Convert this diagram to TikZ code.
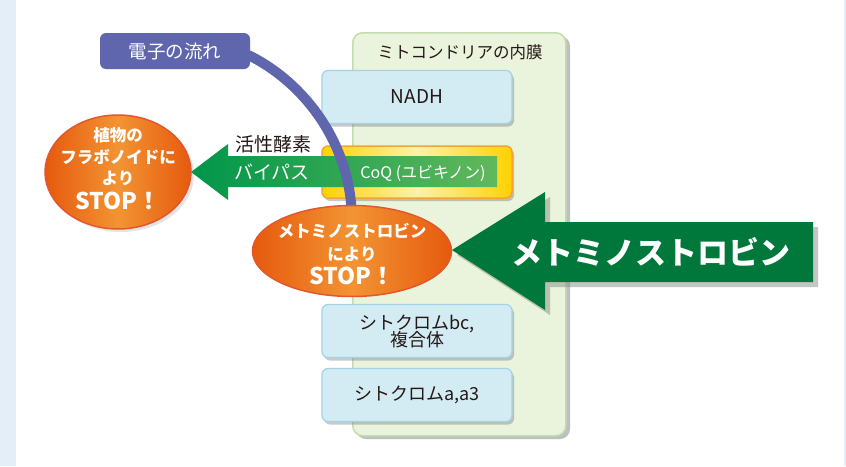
\documentclass[tikz,border=0pt]{standalone}
\usepackage{fontspec}
\setmainfont{Noto Sans CJK JP}
\usetikzlibrary{shadows,shapes.geometric}
\definecolor{stripblue}{HTML}{E3EEF9}
\definecolor{membfill}{HTML}{EAF3DC}
\definecolor{membline}{HTML}{C5DDAE}
\definecolor{boxfill}{HTML}{D3ECF4}
\definecolor{boxline}{HTML}{A5D3E5}
\definecolor{eflow}{HTML}{5F66AE}
\definecolor{darkgreen}{HTML}{00783C}
\definecolor{bygreenL}{HTML}{00964A}
\definecolor{bygreenR}{HTML}{62B85C}
\definecolor{yelE}{HTML}{FFD200}
\definecolor{yelM}{HTML}{FFF1A8}
\definecolor{yelline}{HTML}{F2A43A}
\definecolor{orE}{HTML}{E65A0E}
\definecolor{orM}{HTML}{F29433}
\definecolor{orline}{HTML}{E2572C}
\definecolor{txt}{HTML}{231815}
\tikzset{
  complexbox/.style={draw=boxline, line width=1.2pt, fill=boxfill, rounded corners=6pt,
    minimum width=190pt, minimum height=53pt, align=center, text=txt,
    font=\fontsize{18}{20}\selectfont,
    drop shadow={shadow xshift=2pt, shadow yshift=-3pt, opacity=0.35, fill=black!60}},
  stopell/.style={ellipse, draw=orline, line width=1.5pt, left color=orE, right color=orE,
    middle color=orM, text=white, align=center, inner sep=0pt}
}
\begin{document}
\begin{tikzpicture}[x=1pt,y=-1pt]
\useasboundingbox (0,0) rectangle (846,466);
\fill[white] (0,0) rectangle (846,466);
\fill[stripblue] (0,0) rectangle (16,466);
\fill[stripblue] (844,0) rectangle (846,466);
% membrane
\fill[black!25, rounded corners=10pt] (356,36) rectangle (570,439);
\node[draw=membline, line width=1.5pt, fill=membfill, rounded corners=10pt,
  minimum width=213pt, minimum height=403pt, anchor=north west, inner sep=0pt] (memb) at (352,32) {};
\node[text=txt, font=\fontsize{16.5}{18}\selectfont] (membtitle) at (460,52) {ミトコンドリアの内膜};
% complexes
\node[complexbox, font=\fontsize{19}{20}\selectfont] (nadh) at (417,97) {NADH};
\node[draw=yelline, line width=1.5pt, rounded corners=6pt, left color=yelE, right color=yelE,
  middle color=yelM, minimum width=190pt, minimum height=52pt,
  drop shadow={shadow xshift=2pt, shadow yshift=-3pt, opacity=0.35, fill=black!60}] (coq) at (417,172) {};
\node[complexbox, font=\fontsize{18}{19}\selectfont] (bc) at (417,331) {シトクロムbc,\\[-2pt]複合体};
\node[complexbox] (aa3) at (417,395) {シトクロムa,a3};
% bypass arrow
\coordinate (bytip) at (191,172);
\shade[left color=bygreenL, right color=bygreenR]
  (bytip) -- (228,144) -- (228,156) -- (497,156) -- (497,187) -- (228,187) -- (228,200) -- cycle;
\node[text=txt, font=\fontsize{19}{20}\selectfont] (kassei) at (273,144) {活性酵素};
\node[text=white, font=\fontsize{19}{20}\selectfont] (bypass) at (272,172) {バイパス};
\node[text=white, font=\fontsize{16}{19}\selectfont] (coqtxt) at (423,173) {CoQ (ユビキノン)};
% electron flow
\node[fill=eflow, rounded corners=6pt, minimum width=150pt, minimum height=36pt,
  text=white, font=\fontsize{18.5}{19}\selectfont] (eflowbox) at (175,51) {電子の流れ};
\coordinate (eend) at (352,222);
\draw[eflow, line width=10pt] ([xshift=-2pt,yshift=-4pt]eflowbox.east)
  .. controls (300,80) and (352,140) .. (eend);
% stop ellipses
\node[stopell, minimum width=146pt, minimum height=114pt,
  drop shadow={shadow xshift=3pt, shadow yshift=-3pt, opacity=0.2, fill=black!50}] (stop1) at (118,172) {};
\node[text=white, align=center, font=\bfseries\fontsize{16.5}{21.5}\selectfont] (stop1txt) at (118,157)
  {植物の\\フラボノイドに\\より};
\node[text=white, font=\bfseries\fontsize{23}{26}\selectfont] (stop1stop) at (118,201) {STOP！};
\node[stopell, minimum width=199pt, minimum height=91pt] (stop2) at (352,251) {};
\node[text=white, align=center, font=\bfseries\fontsize{16.5}{23}\selectfont] (stop2txt) at (352,242)
  {メトミノストロビン\\により};
\node[text=white, font=\bfseries\fontsize{23}{26}\selectfont] (stop2stop) at (352,276) {STOP！};
% big arrow
\fill[black!45, opacity=0.5] (457,255) -- (550,197) -- (550,227) -- (818,227) -- (818,287) -- (550,287) -- (550,315) -- cycle;
\coordinate (bigtip) at (452,250);
\fill[darkgreen] (bigtip) -- (545,192) -- (545,222) -- (813,222) -- (813,282) -- (545,282) -- (545,310) -- cycle;
\node[text=white, font=\bfseries\fontsize{31}{34}\selectfont, inner sep=0pt] (bigtxt) at (651,252) {メトミノストロビン};
\end{tikzpicture}
\end{document}
